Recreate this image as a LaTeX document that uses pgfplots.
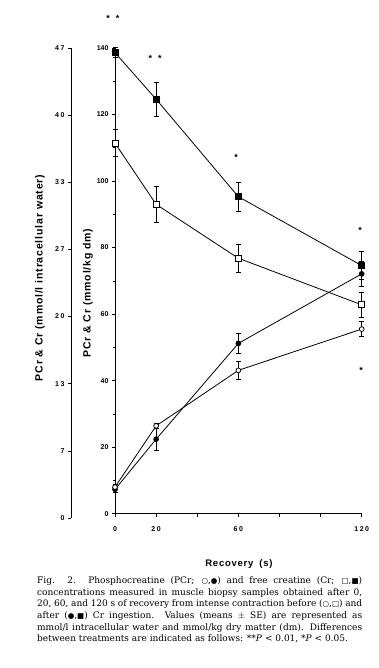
\documentclass[border=0pt]{standalone}
\usepackage{pgfplots}
\pgfplotsset{compat=1.18}
\usepackage{fontspec}
\setmainfont{DejaVu Serif}
\setsansfont{Liberation Sans}
\newfontfamily\symfont{DejaVu Sans}
\newfontfamily\labfont[LetterSpace=8]{Liberation Sans}
\newcommand{\sym}[1]{{\symfont\fontsize{7.5}{7.5}\selectfont #1}}
\begin{document}
\begin{tikzpicture}[x=1pt,y=1pt]
\path[use as bounding box] (0,0) rectangle (378,-668);
% left (intracellular water) axis
\begin{axis}[at={(71pt,-518pt)}, anchor=south west, scale only axis,
  width=1pt, height=470pt, xmin=0, xmax=1, ymin=0, ymax=140,
  axis x line=none, axis y line=left, axis line style={-, line width=0.8pt},
  ytick={0,20,...,140},
  yticklabels={0,7,1\hspace{1.5pt}3,2\hspace{1.5pt}0,2\hspace{1.5pt}7,3\hspace{1.5pt}3,4\hspace{1.5pt}0,4\hspace{1.5pt}7},
  tick align=outside, major tick length=3pt, tick style={line width=0.6pt, black},
  yticklabel style={font=\fontsize{7}{8}\sffamily\bfseries}]
\end{axis}
% main axis
\begin{axis}[at={(115pt,-513.7pt)}, anchor=south west, scale only axis,
  width=246.7pt, height=465.7pt, xmin=0, xmax=120, ymin=0, ymax=140,
  axis x line=bottom, axis y line=left, axis line style={-, line width=0.8pt},
  xtick={0,20,...,120},
  xticklabels={0,2\hspace{1.5pt}0,,6\hspace{1.5pt}0,,,1\hspace{1.5pt}2\hspace{1.5pt}0},
  ytick={0,20,...,140}, minor y tick num=1,
  /pgf/number format/assume math mode=true,
  tick align=outside, major tick length=3pt, minor tick length=2pt,
  tick style={line width=0.6pt, black},
  ticklabel style={font=\fontsize{7}{8}\sffamily\bfseries},
  xticklabel style={yshift=-6pt},
  clip=false]
\pgfplotsset{
  ebar/.style={black, line width=0.8pt,
    error bars/y dir=both, error bars/y explicit,
    error bars/error bar style={black, line width=0.7pt},
    error bars/error mark options={black, rotate=90, mark size=2.5pt, line width=0.7pt}}}
% Cr after (filled squares)
\addplot[ebar, mark=square*, mark size=3pt, mark options={draw=black, fill=black, solid}]
  coordinates {(0,138.6) +- (0,1.5) (20,124.6) +- (0,5.2) (60,95.3) +- (0,4.3) (120,74.6) +- (0,4.2)};
% Cr before (open squares)
\addplot[ebar, mark=square*, mark size=3pt, mark options={draw=black, fill=white, solid}]
  coordinates {(0,111.4) +- (0,4.0) (20,93.0) +- (0,5.5) (60,76.8) +- (0,4.2) (120,62.8) +- (0,3.8)};
% PCr after (filled circles)
\addplot[ebar, mark=*, mark size=2.4pt, mark options={draw=black, fill=black, solid}]
  coordinates {(0,7.3) +- (0,1.0) (20,22.4) +- (0,3.4) (60,51.2) +- (0,3.0) (120,72.1) +- (0,3.8)};
% PCr before (open circles)
\addplot[ebar, mark=*, mark size=2.4pt, mark options={draw=black, fill=white, solid}]
  coordinates {(0,8.0) +- (0,0.8) (20,26.4) +- (0,0.8) (60,43.1) +- (0,2.6) (120,55.5) +- (0,2.3)};
% significance marks
\node[font=\fontsize{9}{9}\sffamily\bfseries] at (axis cs:-1,149) {*\hspace{6pt}*};
\node[font=\fontsize{9}{9}\sffamily\bfseries] at (axis cs:19.5,136.8) {*\hspace{6pt}*};
\node[font=\fontsize{9}{9}\sffamily\bfseries] at (axis cs:58.9,107.2) {*};
\node[font=\fontsize{9}{9}\sffamily\bfseries] at (axis cs:119.2,85.3) {*};
\node[font=\fontsize{9}{9}\sffamily\bfseries] at (axis cs:119.7,43) {*};
\end{axis}
% axis labels
\node[rotate=90, font=\fontsize{10.5}{12}\labfont\bfseries] at (40,-278) {PCr \& Cr (mmol/l intracellular water)};
\node[rotate=90, font=\fontsize{10.5}{12}\labfont\bfseries] at (88,-293) {PCr \& Cr (mmol/kg dm)};
\node[font=\fontsize{9.5}{11}\labfont\bfseries] at (239,-564) {Recovery\hspace{6pt}(s)};
% caption
\node[anchor=north west, text width=325pt, align=justify, inner sep=0pt,
  font=\fontsize{9.0}{11.66}\selectfont] at (37,-576.5) {%
Fig. 2. Phosphocreatine (PCr; \sym{○},\sym{●}) and free creatine (Cr; \sym{□},\sym{■})\linebreak
concentrations measured in muscle biopsy samples obtained after 0,\linebreak
20, 60, and 120 s of recovery from intense contraction before (\sym{○},\sym{□}) and\linebreak
after (\sym{●},\sym{■}) Cr ingestion. Values (means $\pm$ SE) are represented as\linebreak
mmol/l intracellular water and mmol/kg dry matter (dm). Differences\linebreak
between treatments are indicated as follows: **\textit{P} < 0.01, *\textit{P} < 0.05.};
\end{tikzpicture}
\end{document}
